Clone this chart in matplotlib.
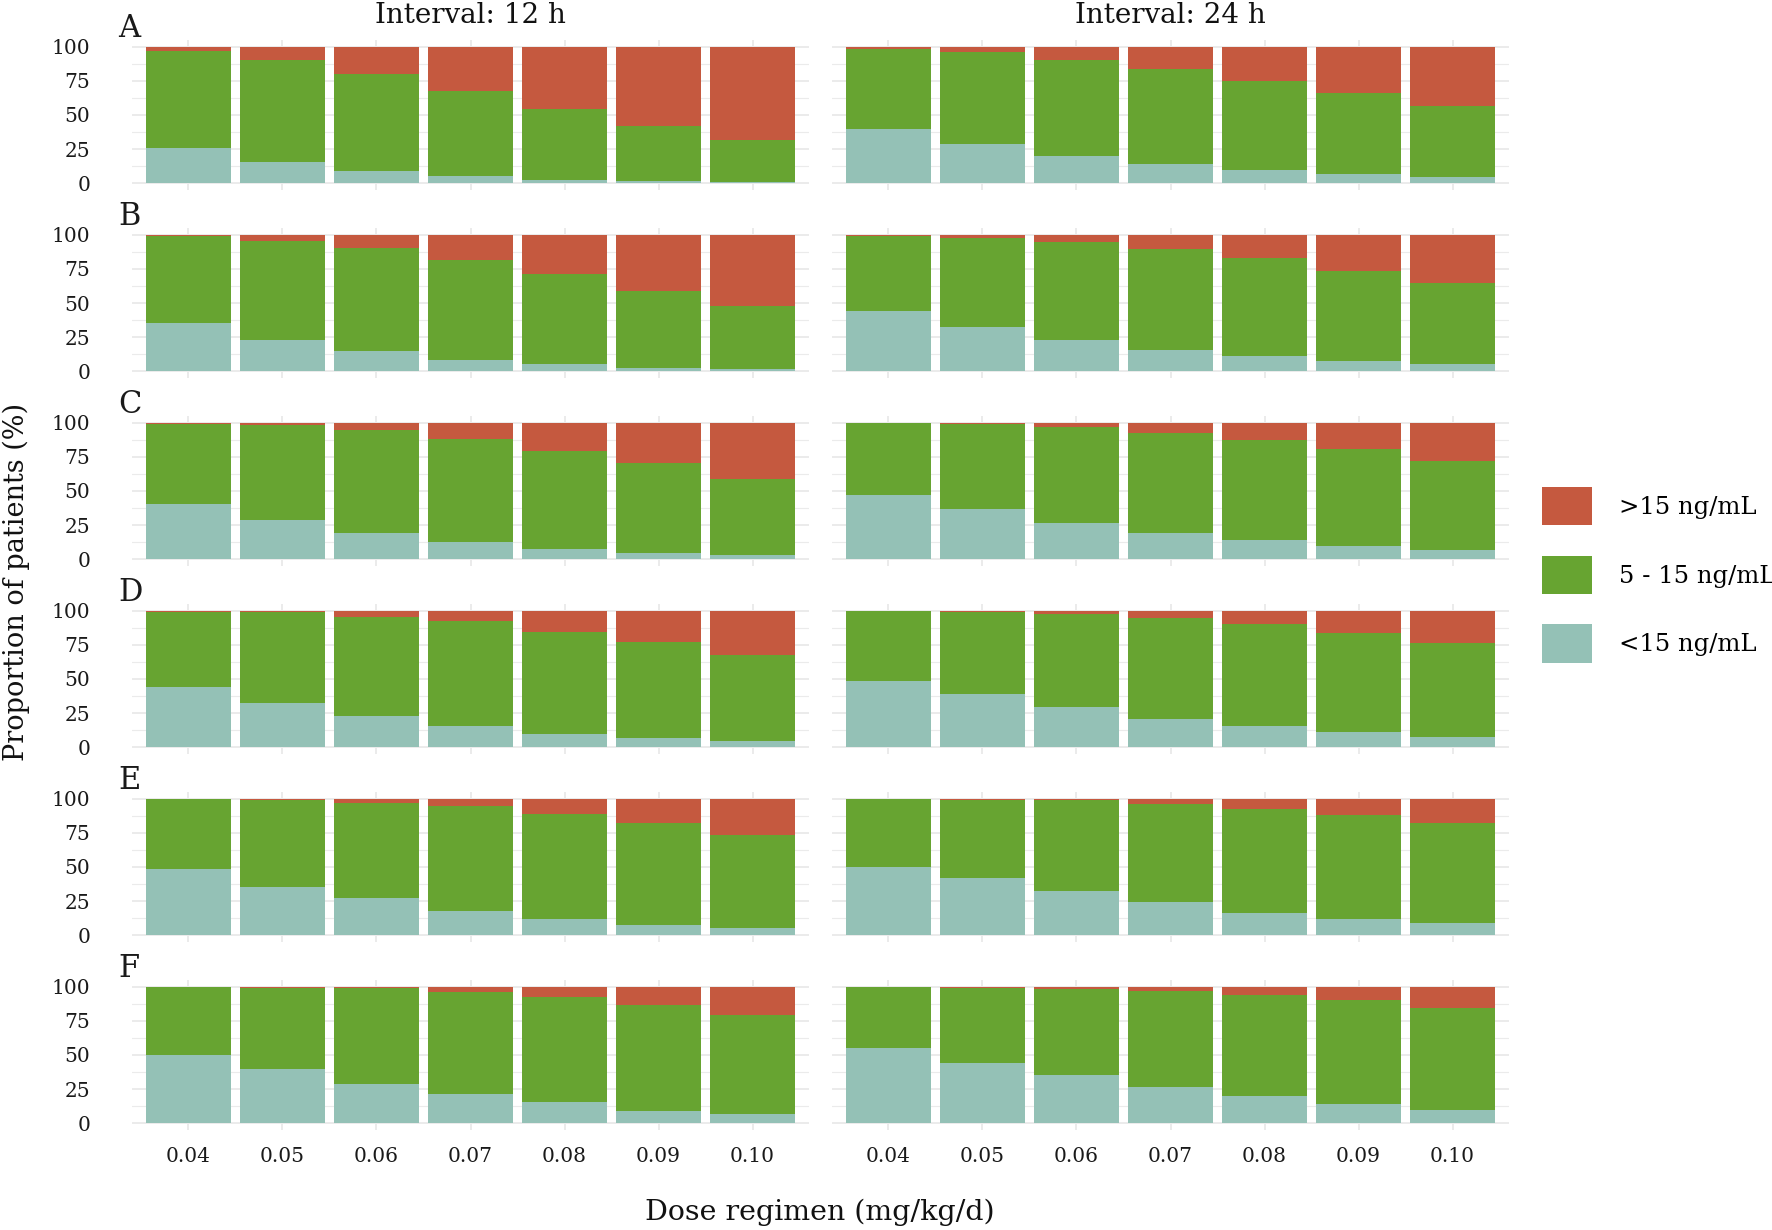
import matplotlib
matplotlib.use("Agg")
import matplotlib.pyplot as plt
from matplotlib.patches import Patch
import numpy as np

plt.rcParams['font.family'] = ['DejaVu Serif']

doses = ['0.04', '0.05', '0.06', '0.07', '0.08', '0.09', '0.10']
panels = ['A', 'B', 'C', 'D', 'E', 'F']
intervals = ['Interval: 12 h', 'Interval: 24 h']
categories = ['>15 ng/mL', '5 - 15 ng/mL', '<15 ng/mL']

# proportions (%) per panel row
low_12h = [
    [26.0, 15.7, 8.6, 5.1, 2.7, 1.5, 0.8],
    [35.0, 22.8, 14.5, 8.3, 5.1, 2.7, 1.5],
    [40.8, 29.1, 19.3, 12.5, 7.8, 4.9, 3.2],
    [44.5, 32.5, 22.7, 15.6, 9.5, 6.4, 4.2],
    [48.4, 35.2, 27.1, 17.6, 12.2, 7.6, 5.4],
    [49.9, 39.9, 29.1, 21.3, 15.4, 9.0, 6.4],
]
target_12h = [
    [71.1, 74.7, 71.8, 62.8, 51.5, 40.7, 30.6],
    [63.8, 73.0, 75.7, 73.1, 66.0, 55.9, 46.3],
    [58.5, 69.2, 75.3, 75.8, 71.9, 65.5, 55.7],
    [55.0, 66.3, 73.1, 76.6, 75.3, 70.9, 63.3],
    [51.4, 64.1, 70.2, 76.8, 77.0, 74.6, 68.4],
    [49.9, 59.6, 69.7, 75.0, 77.3, 77.8, 72.8],
]
high_12h = [
    [2.9, 9.6, 19.6, 32.1, 45.8, 57.8, 68.6],
    [1.2, 4.2, 9.8, 18.6, 28.9, 41.4, 52.2],
    [0.7, 1.7, 5.4, 11.7, 20.3, 29.6, 41.1],
    [0.5, 1.2, 4.2, 7.8, 15.2, 22.7, 32.5],
    [0.2, 0.7, 2.7, 5.6, 10.8, 17.8, 26.2],
    [0.2, 0.5, 1.2, 3.7, 7.3, 13.2, 20.8],
]
low_24h = [
    [40.0, 28.4, 20.1, 14.2, 9.6, 7.1, 4.9],
    [43.9, 32.4, 22.8, 15.9, 11.0, 7.8, 5.1],
    [47.2, 36.9, 26.2, 19.1, 13.9, 9.8, 6.4],
    [48.7, 38.9, 29.6, 21.0, 15.4, 11.0, 7.3],
    [50.1, 41.8, 32.3, 24.2, 16.6, 11.7, 8.8],
    [55.0, 44.0, 35.2, 26.4, 19.8, 14.4, 9.8],
]
target_24h = [
    [58.5, 67.9, 70.6, 69.4, 65.4, 58.8, 51.7],
    [55.6, 65.4, 71.8, 73.6, 71.8, 65.5, 59.4],
    [52.6, 61.9, 70.6, 73.6, 73.6, 71.1, 65.5],
    [51.1, 60.1, 68.2, 74.1, 74.8, 73.1, 69.2],
    [49.7, 57.5, 66.5, 71.9, 76.1, 76.1, 73.4],
    [44.8, 55.5, 63.3, 70.7, 74.1, 76.1, 74.6],
]
high_24h = [
    [1.5, 3.7, 9.3, 16.4, 25.0, 34.1, 43.4],
    [0.5, 2.2, 5.4, 10.5, 17.2, 26.7, 35.5],
    [0.2, 1.2, 3.2, 7.3, 12.5, 19.1, 28.1],
    [0.2, 1.0, 2.2, 4.9, 9.8, 15.9, 23.5],
    [0.2, 0.7, 1.2, 3.9, 7.3, 12.2, 17.8],
    [0.2, 0.5, 1.5, 2.9, 6.1, 9.5, 15.6],
]

colors = {'>15 ng/mL': '#C5593F', '5 - 15 ng/mL': '#67A431', '<15 ng/mL': '#94C1B6'}
grid_col = '#EBEBEB'

W, H = 1772, 1230
fig = plt.figure(figsize=(W / 100, H / 100), dpi=100)

col_left = [132, 832]
col_width = 677
row_top0 = 40
row_step = 188
ax_h = 150

data = [(low_12h, target_12h, high_12h), (low_24h, target_24h, high_24h)]
x = np.arange(len(doses))

for r, tag in enumerate(panels):
    for c in range(2):
        top = row_top0 + r * row_step
        ax = fig.add_axes([col_left[c] / W, 1 - (top + ax_h) / H, col_width / W, ax_h / H])
        low, mid, high = data[c]
        ax.bar(x, low[r], width=0.9, color=colors['<15 ng/mL'], zorder=3)
        ax.bar(x, mid[r], width=0.9, bottom=low[r], color=colors['5 - 15 ng/mL'], zorder=3)
        bottom_high = np.array(low[r]) + np.array(mid[r])
        ax.bar(x, high[r], width=0.9, bottom=bottom_high, color=colors['>15 ng/mL'], zorder=3)

        ax.set_xlim(-0.6, len(doses) - 0.4)
        ax.set_ylim(-5, 105)
        ax.set_yticks([0, 25, 50, 75, 100])
        ax.set_yticks([12.5, 37.5, 62.5, 87.5], minor=True)
        ax.set_xticks(x)
        ax.grid(which='major', color=grid_col, linewidth=1.4, zorder=0)
        ax.grid(which='minor', axis='y', color=grid_col, linewidth=0.8, zorder=0)
        for s in ax.spines.values():
            s.set_visible(False)
        ax.tick_params(which='both', length=0)
        ax.tick_params(axis='y', pad=30, labelsize=14.5, labelcolor='#1a1a1a')
        ax.tick_params(axis='x', pad=12, labelsize=14.5, labelcolor='#1a1a1a')
        if c == 1:
            ax.set_yticklabels([])
        if r == len(panels) - 1:
            ax.set_xticklabels(doses)
        else:
            ax.set_xticklabels([])
        if c == 0:
            ax.text(-14 / col_width, 1.02, tag, transform=ax.transAxes,
                    fontsize=22, ha='left', va='baseline', color='#1a1a1a')
        if r == 0:
            ax.text(0.5, 1.115, intervals[c], transform=ax.transAxes,
                    fontsize=20, ha='center', va='baseline', color='#111111')

fig.text(820 / W, 1 - 1212 / H, 'Dose regimen (mg/kg/d)', fontsize=20.5,
         ha='center', va='center', color='#111111')
fig.text(16 / W, 1 - 582 / H, 'Proportion of patients (%)', fontsize=19.5,
         ha='center', va='center', rotation=90, color='#111111')

handles = [Patch(facecolor=colors[k], edgecolor='none', label=k) for k in categories]
fig.legend(handles=handles, loc='upper left', bbox_to_anchor=(1542 / W, 1 - 487 / H),
           frameon=False, borderpad=0, borderaxespad=0, fontsize=17.5,
           handlelength=2.05, handleheight=2.05, labelspacing=1.25, handletextpad=1.1)

fig.savefig('out.png', dpi=100)
